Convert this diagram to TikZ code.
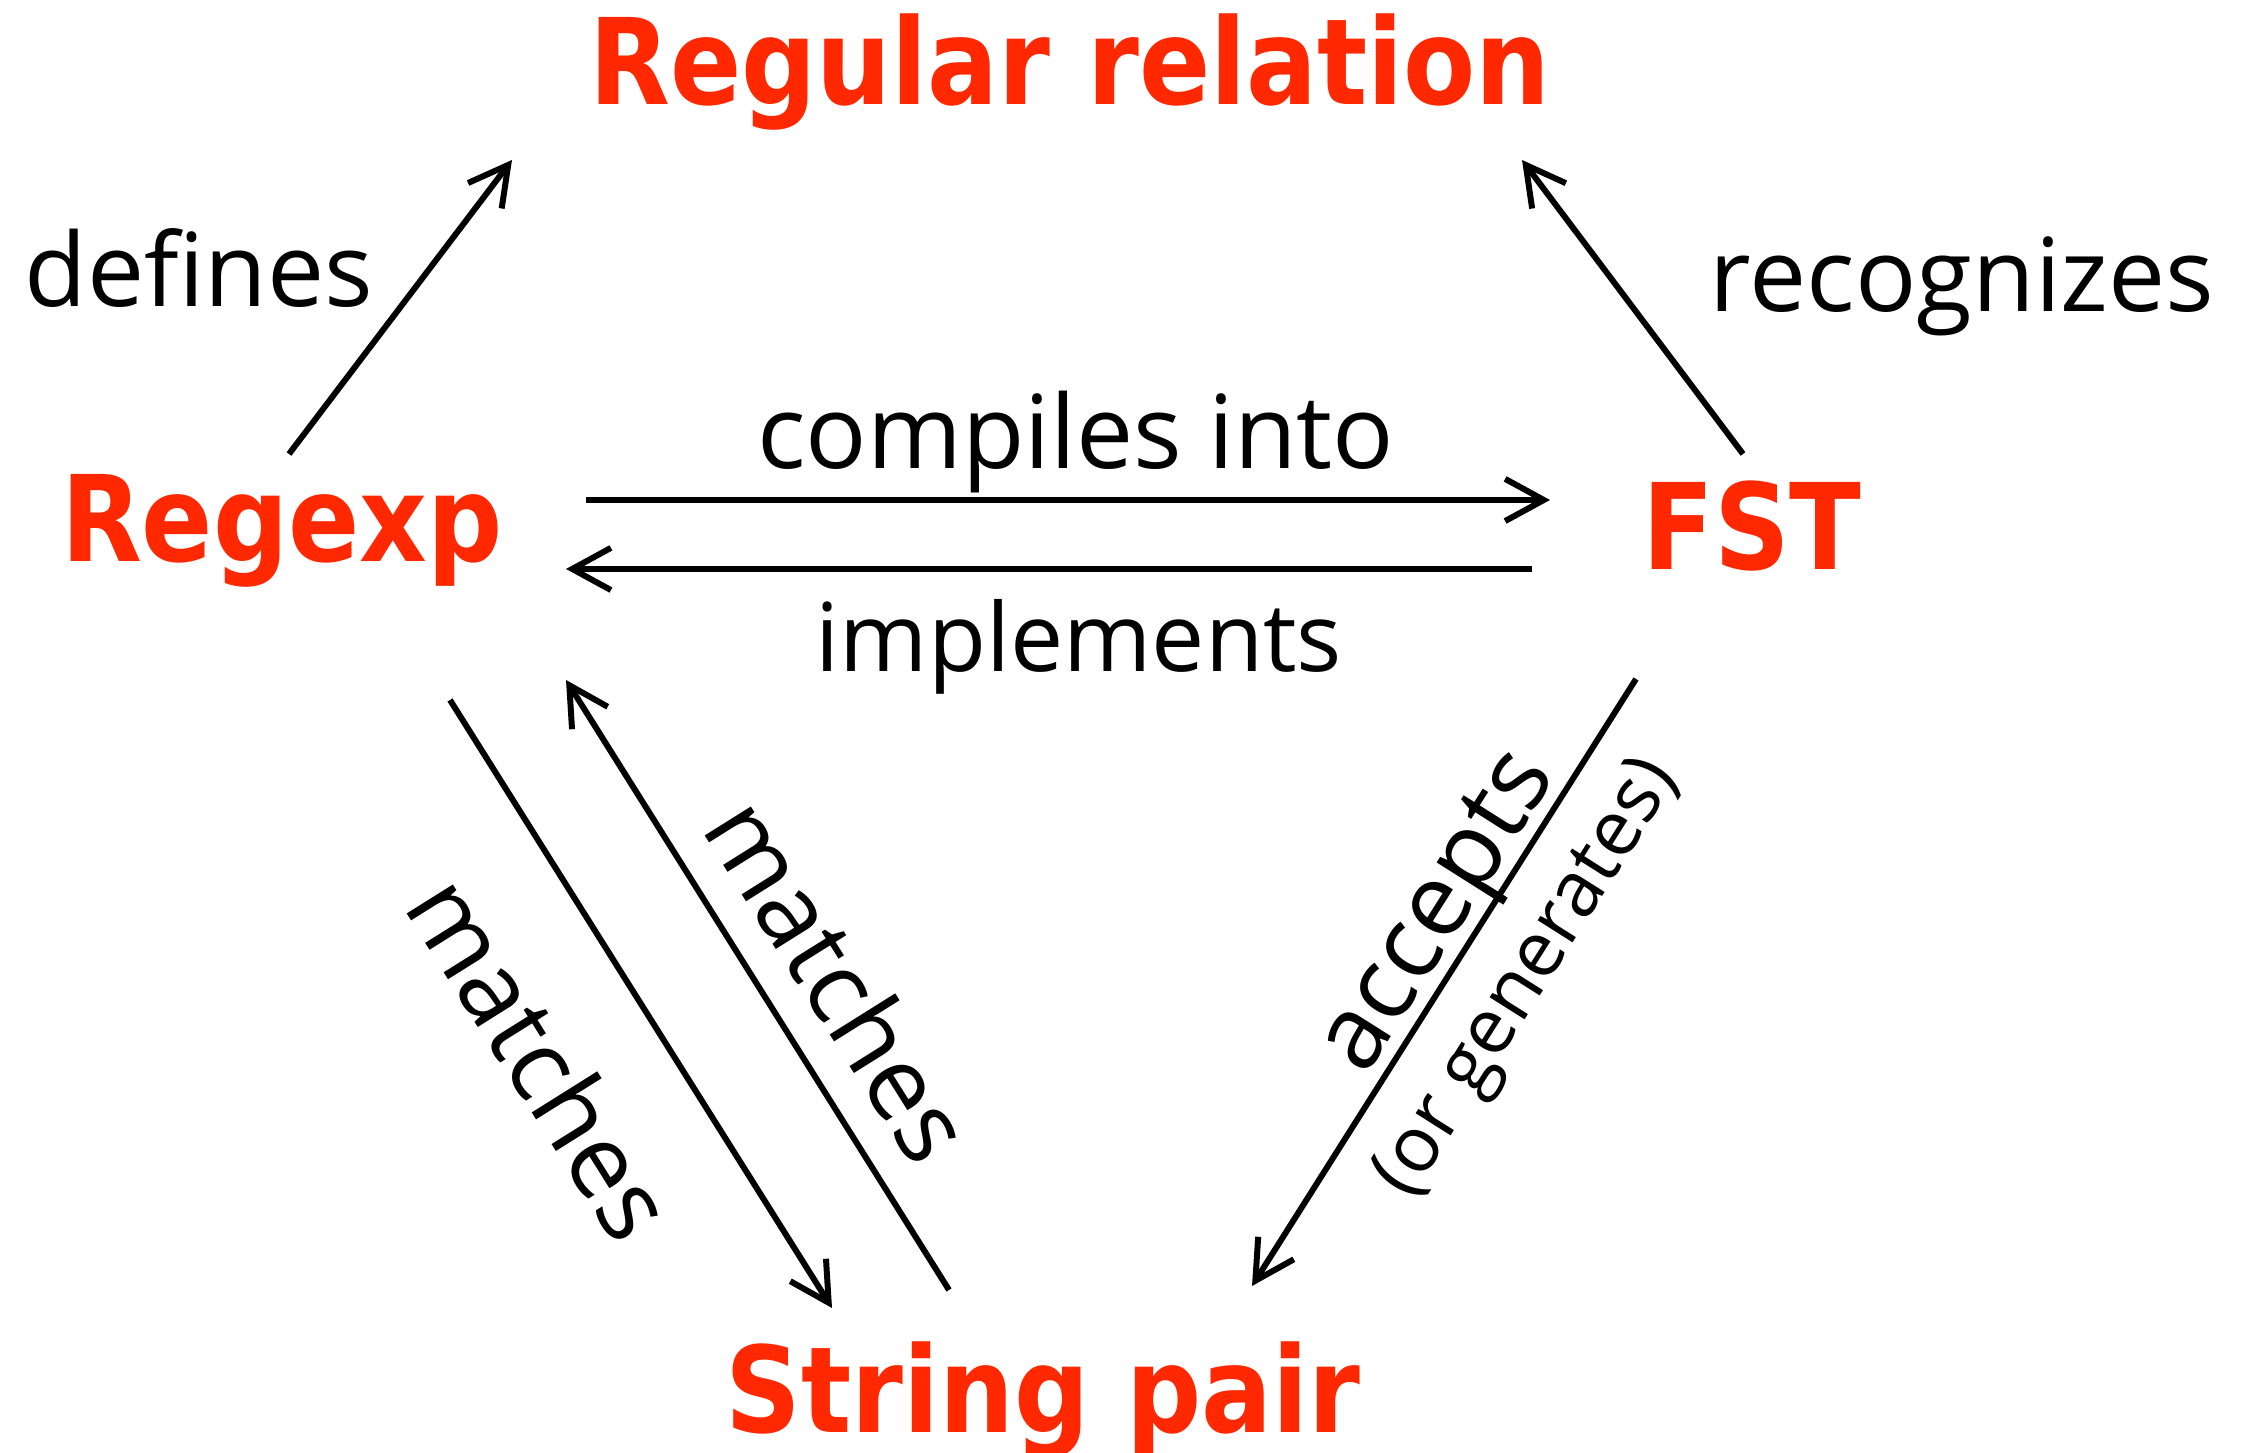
\documentclass[tikz,border=0pt]{standalone}
\usepackage{fontspec}
\setmainfont{Open Sans}
\newfontfamily\titlefont{DejaVu Sans}
\usetikzlibrary{arrows.meta}
\definecolor{titlered}{RGB}{255,40,0}
\tikzset{
        term/.style={font=\titlefont\bfseries\fontsize{34}{34}\selectfont, text=titlered, anchor=base, inner sep=0pt, xscale=0.88},
        verb/.style={font=\fontsize{29}{29}\selectfont, inner sep=0pt},
        rel/.style={line width=1.7pt, -{Straight Barb[length=11pt, width=12pt, line width=1.7pt]}}
}
\begin{document}
\begin{tikzpicture}
        \useasboundingbox (0,0) rectangle (22.41,14.53);
        \node[term] (relation) at (10.70,13.48) {Regular relation};
        \node[term] (regexp) at (2.82,8.91) {Regexp};
        \node[term] (fst) at (17.52,8.83) {FST};
        \node[term] (pair) at (10.43,0.20) {String pair};
        \coordinate (def-a) at (2.89,9.99);
        \coordinate (def-b) at (5.12,12.93);
        \coordinate (rec-a) at (17.43,9.99);
        \coordinate (rec-b) at (15.22,12.93);
        \coordinate (comp-a) at (5.86,9.53);
        \coordinate (comp-b) at (15.50,9.53);
        \coordinate (impl-a) at (15.32,8.84);
        \coordinate (impl-b) at (5.66,8.84);
        \coordinate (ml-a) at (4.50,7.53);
        \coordinate (ml-b) at (8.32,1.45);
        \coordinate (mr-a) at (9.49,1.63);
        \coordinate (mr-b) at (5.66,7.73);
        \coordinate (acc-a) at (16.36,7.74);
        \coordinate (acc-b) at (12.52,1.67);
        \draw[rel] (def-a) -- (def-b);
        \draw[rel] (rec-a) -- (rec-b);
        \draw[rel] (comp-a) -- (comp-b);
        \draw[rel] (impl-a) -- (impl-b);
        \draw[rel] (ml-a) -- (ml-b);
        \draw[rel] (mr-a) -- (mr-b);
        \draw[rel] (acc-a) -- (acc-b);
        \node[verb, anchor=base] (defines) at (1.99,11.46) {defines};
        \node[verb, anchor=base] (recognizes) at (19.62,11.41) {recognizes};
        \node[verb, anchor=base] (compiles) at (10.76,9.84) {compiles into};
        \node[verb, anchor=base, font=\fontsize{27}{27}\selectfont] (implements) at (10.79,7.81) {implements};
        \node[verb, rotate=-57.9] (matchesl) at (5.42,3.96) {matches};
        \node[verb, rotate=-57.9] (matchesr) at (8.40,4.74) {matches};
        \node[verb, rotate=57.7] (accepts) at (14.43,5.38) {accepts};
        \node[verb, rotate=57.7, font=\fontsize{22}{22}\selectfont] (generates) at (15.29,4.74) {(or generates)};
\end{tikzpicture}
\end{document}
